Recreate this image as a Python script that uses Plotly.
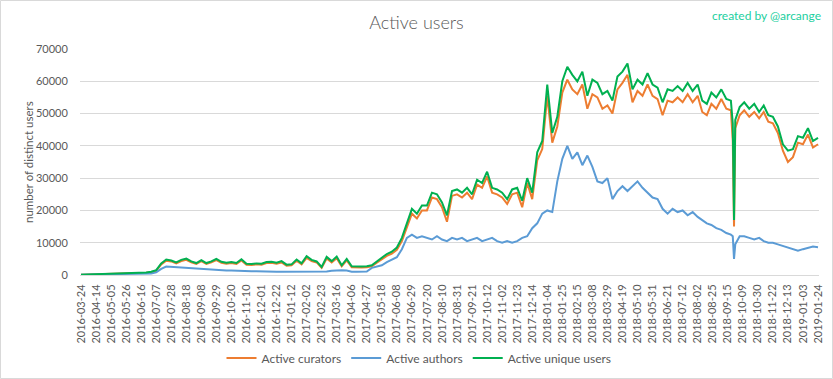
import numpy as np
import pandas as pd
import plotly.graph_objects as go

# ---------------- data ----------------
tick_labels = [
    "2016-03-24", "2016-04-14", "2016-05-05", "2016-05-26", "2016-06-16", "2016-07-07",
    "2016-07-28", "2016-08-18", "2016-09-08", "2016-09-29", "2016-10-20", "2016-11-10",
    "2016-12-01", "2016-12-22", "2017-01-12", "2017-02-02", "2017-02-23", "2017-03-16",
    "2017-04-06", "2017-04-27", "2017-05-18", "2017-06-08", "2017-06-29", "2017-07-20",
    "2017-08-10", "2017-08-31", "2017-09-21", "2017-10-12", "2017-11-02", "2017-11-23",
    "2017-12-14", "2018-01-04", "2018-01-25", "2018-02-15", "2018-03-08", "2018-03-29",
    "2018-04-19", "2018-05-10", "2018-05-31", "2018-06-21", "2018-07-12", "2018-08-02",
    "2018-08-25", "2018-09-15", "2018-10-09", "2018-10-30", "2018-11-22", "2018-12-13",
    "2019-01-03", "2019-01-24",
]

# weekly samples (Thursdays) from 2016-03-24 to 2019-01-24
weekly_dates = pd.date_range("2016-03-24", "2019-01-24", freq="7D")

unique_users = [
    100, 150, 200, 200, 250, 300, 300, 350, 400, 450, 500, 550, 700, 800, 1000, 1500,
    3600, 4800, 4500, 3900, 4700, 5100, 4200, 3700, 4600, 3700, 4200, 5000, 4100, 3800,
    4000, 3700, 4900, 3500, 3400, 3600, 3500, 4000, 4100, 3800, 4300, 3200, 3300, 4800,
    3600, 5800, 4700, 4200, 2500, 5600, 4300, 5700, 3000, 5000, 2700, 2600, 2600, 2700,
    3000, 4200, 5300, 6500, 7200, 8500, 11500, 16000, 20500, 19000, 21500, 21500, 25500,
    25000, 22500, 18500, 26000, 26500, 25500, 27000, 25000, 29500, 28500, 32000, 27000,
    26500, 25500, 23500, 26500, 27000, 23000, 30000, 25500, 38000, 41500, 59000, 44000,
    49000, 60000, 64500, 62000, 60000, 63000, 55500, 60500, 59500, 56000, 57000, 54000,
    61500, 63000, 65500, 57500, 60500, 59000, 62500, 59000, 58000, 53500, 57500, 57000,
    58500, 57000, 59500, 57000, 59000, 54000, 53000, 56500, 55000, 57500, 54500, 54000,
    48000, 52000, 53500, 51500, 53000, 50500, 52500, 49500, 49000, 46000, 40500, 38500,
    39000, 43000, 42500, 45500, 41500, 42500,
]

curators = [
    80, 120, 160, 170, 210, 250, 260, 300, 340, 380, 420, 470, 600, 700, 850, 1300,
    3300, 4400, 4200, 3600, 4300, 4700, 3900, 3400, 4300, 3400, 3900, 4600, 3800, 3500,
    3700, 3400, 4500, 3200, 3100, 3300, 3200, 3700, 3800, 3500, 3900, 2900, 3000, 4400,
    3300, 5300, 4300, 3900, 2200, 5100, 3900, 5200, 2700, 4500, 2400, 2300, 2300, 2400,
    2700, 3800, 4800, 5900, 6600, 7800, 10500, 15000, 19000, 17500, 20000, 20000, 24000,
    23500, 21000, 16500, 24500, 25000, 24000, 25500, 23500, 28000, 27000, 30500, 25500,
    25000, 24000, 22000, 25000, 25500, 21000, 28500, 23500, 35500, 39000, 55500, 41000,
    46000, 56500, 60500, 57500, 56000, 59000, 51500, 56000, 55000, 51500, 52500, 50000,
    57500, 59500, 62000, 53500, 57000, 55500, 59000, 55500, 54500, 49500, 54000, 53500,
    55000, 53500, 56000, 53500, 55500, 50500, 49500, 53000, 51500, 54500, 51500, 51000,
    45500, 49500, 51000, 49000, 50500, 48500, 50500, 47500, 47000, 44000, 38500, 35000,
    36500, 41000, 40500, 43500, 39500, 40500,
]

authors = [
    60, 80, 100, 110, 130, 150, 160, 180, 200, 220, 250, 280, 350, 400, 500, 800,
    1900, 2600, 2500, 2200, 2300, 2100, 1900, 1800, 1700, 1600, 1600, 1500, 1500, 1400,
    1400, 1300, 1300, 1200, 1200, 1200, 1100, 1100, 1100, 1000, 1000, 1000, 1050, 1000,
    1000, 1050, 1000, 1000, 1050, 1100, 1300, 1500, 1500, 1400, 1000, 1000, 1000, 1100,
    2200, 2700, 3000, 4000, 4800, 5500, 8000, 11500, 12500, 11500, 12000, 11500, 11000,
    12000, 11000, 10500, 11500, 11000, 11500, 10500, 11000, 11500, 10500, 11000, 11500,
    10500, 10000, 10500, 10000, 10500, 11500, 12000, 14500, 16000, 19000, 20000, 19500,
    29000, 36000, 40000, 36000, 38000, 34000, 37000, 33500, 29000, 28500, 30000, 23500,
    26000, 27500, 26000, 27500, 29000, 27000, 25500, 24000, 23500, 20500, 19000, 20500,
    19500, 20000, 18500, 19500, 18000, 17000, 16000, 15500, 14500, 14000, 13000, 12500,
    9500, 12000, 12000, 11500, 11000, 11500, 10500, 10000, 10000, 9500, 9000, 8500,
    8000, 7500, 8000, 8500, 8800, 8600,
]

# extra daily samples around the 2018-09-25 outage
outage_dates = ["2018-09-23", "2018-09-25"]
outage_unique = [47000, 17000]
outage_curators = [41500, 15000]
outage_authors = [12000, 5000]

# ---------------- assemble ----------------
df = pd.DataFrame({"date": list(weekly_dates) + list(pd.to_datetime(outage_dates)),
                   "unique": unique_users + outage_unique,
                   "curators": curators + outage_curators,
                   "authors": authors + outage_authors}).sort_values("date")

# category-axis position: each labelled date sits 21 categories after the previous one
tick_dates = pd.to_datetime(tick_labels)
tick_pos = np.arange(len(tick_labels)) * 21
pos = np.interp(df["date"].map(pd.Timestamp.toordinal).values,
                [d.toordinal() for d in tick_dates], tick_pos)

GREY = "#595959"
FONT = "Lato, 'Open Sans', sans-serif"

fig = go.Figure()
series = [
    ("Active curators", "curators", "#ED7D31"),
    ("Active authors", "authors", "#5B9BD5"),
    ("Active unique users", "unique", "#00B050"),
]
for name, col, color in series:
    fig.add_trace(go.Scatter(x=pos, y=df[col].values, mode="lines", name=name,
                             line=dict(color=color, width=2)))

W, H = 833, 379
L, R, T, B = 80, 14, 49, 104
pw, ph = W - L - R, H - T - B

fig.update_layout(
    width=W, height=H,
    margin=dict(l=L, r=R, t=T, b=B, pad=0, autoexpand=False),
    paper_bgcolor="white", plot_bgcolor="white",
    font=dict(family=FONT, color=GREY, size=11.5),
    title=dict(text="Active users", x=0.5, xref="container", xanchor="center",
               y=1 - 23 / H, yref="container", yanchor="middle",
               font=dict(size=18, color=GREY, family=FONT, weight=300)),
    showlegend=True,
    legend=dict(orientation="h", xref="paper", yref="paper",
                x=(419 - L) / pw, xanchor="center", y=(T + ph - 358) / ph, yanchor="middle",
                font=dict(size=12, color=GREY), itemwidth=30, tracegroupgap=0,
                bgcolor="rgba(0,0,0,0)"),
    xaxis=dict(range=[-1.4, 1030.4], tickmode="array", tickvals=tick_pos,
               ticktext=tick_labels, tickangle=-90, showgrid=False, zeroline=False,
               showline=True, linecolor="#D9D9D9", linewidth=1, automargin=False,
               ticks="outside", ticklen=4, tickcolor="rgba(0,0,0,0)",
               tickfont=dict(size=11, color=GREY)),
    yaxis=dict(range=[0, 70000], tickmode="array",
               tickvals=[0, 10000, 20000, 30000, 40000, 50000, 60000, 70000],
               ticktext=["0", "10000", "20000", "30000", "40000", "50000", "60000", "70000"],
               showgrid=True, gridcolor="#D9D9D9", gridwidth=1, zeroline=False,
               showline=False, ticks="outside", ticklen=9, tickcolor="rgba(0,0,0,0)",
               automargin=False, tickfont=dict(size=11, color=GREY)),
    hovermode=False,
)

fig.add_annotation(text="number of distinct users", textangle=-90,
                   xref="paper", yref="paper", x=(28 - L) / pw, y=0.5,
                   xanchor="center", yanchor="middle", showarrow=False,
                   font=dict(size=11.5, color=GREY))
fig.add_annotation(text="created by @arcange", xref="paper", yref="paper",
                   x=(823 - L) / pw, y=(T + ph - 15) / ph, xanchor="right", yanchor="middle",
                   showarrow=False, font=dict(size=12, color="#22CFA0"))
# chart-area border
fig.add_shape(type="rect", xref="paper", yref="paper",
              x0=(0.5 - L) / pw, x1=(832.5 - L) / pw,
              y0=(T + ph - 378.5) / ph, y1=(T + ph - 0.5) / ph,
              line=dict(color="#D9D9D9", width=1), fillcolor="rgba(0,0,0,0)", layer="below")

fig.write_html("out.html",
               config={"displayModeBar": False, "staticPlot": True},
               post_script="document.body.style.margin='0';"
                           "document.body.style.overflow='hidden';")
